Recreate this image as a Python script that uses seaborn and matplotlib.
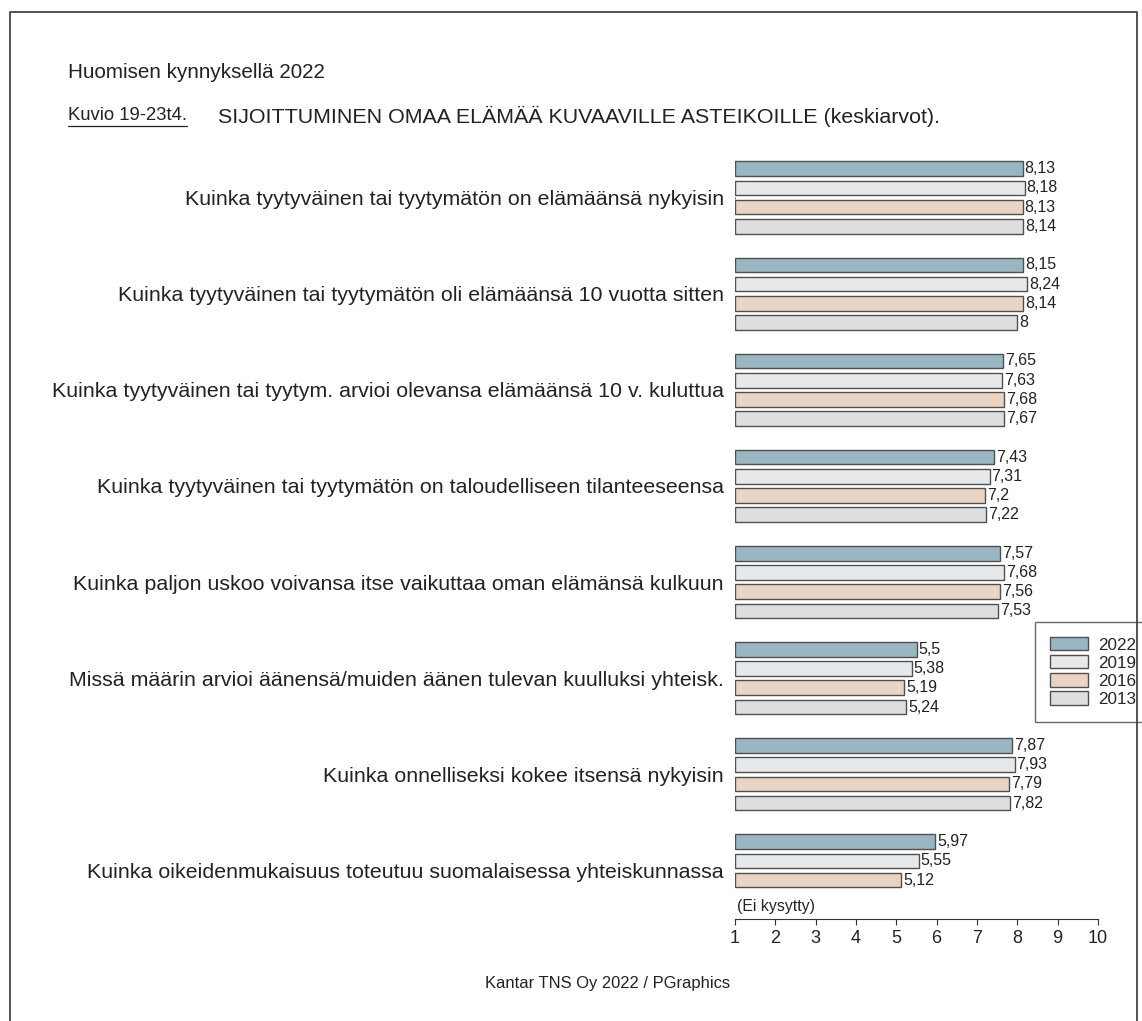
import numpy as np
import pandas as pd
import matplotlib
matplotlib.use("Agg")
import matplotlib.pyplot as plt
from matplotlib.lines import Line2D
import seaborn as sns

# --data
kysymykset = [
    "Kuinka tyytyväinen tai tyytymätön on elämäänsä nykyisin",
    "Kuinka tyytyväinen tai tyytymätön oli elämäänsä 10 vuotta sitten",
    "Kuinka tyytyväinen tai tyytym. arvioi olevansa elämäänsä 10 v. kuluttua",
    "Kuinka tyytyväinen tai tyytymätön on taloudelliseen tilanteeseensa",
    "Kuinka paljon uskoo voivansa itse vaikuttaa oman elämänsä kulkuun",
    "Missä määrin arvioi äänensä/muiden äänen tulevan kuulluksi yhteisk.",
    "Kuinka onnelliseksi kokee itsensä nykyisin",
    "Kuinka oikeidenmukaisuus toteutuu suomalaisessa yhteiskunnassa",
]
vuodet = ["2022", "2019", "2016", "2013"]
v2022 = [8.13, 8.15, 7.65, 7.43, 7.57, 5.5, 7.87, 5.97]
v2019 = [8.18, 8.24, 7.63, 7.31, 7.68, 5.38, 7.93, 5.55]
v2016 = [8.13, 8.14, 7.68, 7.2, 7.56, 5.19, 7.79, 5.12]
v2013 = [8.14, 8.0, 7.67, 7.22, 7.53, 5.24, 7.82, np.nan]
varit = ["#93b9c7", "#e7e8e9", "#f1d1bd", "#dddee0"]

rows = []
for vuosi, arvot in zip(vuodet, [v2022, v2019, v2016, v2013]):
    for k, a in zip(kysymykset, arvot):
        rows.append({"kysymys": k, "vuosi": vuosi, "arvo": a})
df = pd.DataFrame(rows).dropna()

sns.set_style("white")
plt.rcParams["font.family"] = ["Liberation Sans", "DejaVu Sans"]

W, H = 1142, 1021
fig = plt.figure(figsize=(W / 100, H / 100), dpi=100)
ax = fig.add_axes([735 / W, 1 - 918.5 / H, (1098 - 735) / W, (918.5 - 149.5) / H])

sns.barplot(data=df, x="arvo", y="kysymys", hue="vuosi", order=kysymykset,
            hue_order=vuodet, palette=dict(zip(vuodet, varit)), orient="h",
            width=0.8, gap=0.24, edgecolor="#505050", linewidth=1.0,
            errorbar=None, ax=ax)

# bars start from the scale's left end (1)
for p in ax.patches:
    w = p.get_width()
    p.set_x(1)
    p.set_width(w - 1)

for c in ax.containers:
    ax.bar_label(c, fmt=lambda v: f"{v:g}".replace(".", ","), padding=1.5,
                 fontsize=11.5, color="#222222")

ax.set_xlim(1, 10)
ax.set_xticks(range(1, 11))
ax.set_xlabel("")
ax.set_ylabel("")
for s in ["top", "right", "left"]:
    ax.spines[s].set_visible(False)
ax.spines["bottom"].set_color("#333333")
ax.tick_params(axis="x", bottom=True, length=4, color="#333333",
               labelsize=13, labelcolor="#222222", pad=4)
ax.tick_params(axis="y", left=False, labelsize=15.4, labelcolor="#222222", pad=4.5)

# missing 2013 value in the last question
ax.text(1.05, 7 + 0.38, "(Ei kysytty)", fontsize=11.4, color="#222222",
        va="center", ha="left")

sns.move_legend(ax, loc="upper left", bbox_to_anchor=(1035 / W, 1 - 622 / H),
                bbox_transform=fig.transFigure, title=None, frameon=True,
                fancybox=False, fontsize=12.3, handlelength=2.2, handleheight=0.8,
                labelspacing=0.15, borderpad=0.9, handletextpad=0.6,
                borderaxespad=0)
leg = ax.get_legend()
leg.get_frame().set_edgecolor("#444444")
leg.get_frame().set_linewidth(1.0)

# titles
fig.text(68 / W, 1 - 73 / H, "Huomisen kynnyksellä 2022", fontsize=14.9,
         color="#222222", va="center")
kuvio = fig.text(68 / W, 1 - 116 / H, "Kuvio 19-23t4.", fontsize=13.3,
                 color="#222222", va="center")
fig.text(218 / W, 1 - 116 / H,
         "SIJOITTUMINEN OMAA ELÄMÄÄ KUVAAVILLE ASTEIKOILLE (keskiarvot).",
         fontsize=15.4, color="#222222", va="center")
fig.text(608 / W, 1 - 983 / H, "Kantar TNS Oy 2022 / PGraphics", fontsize=11.9,
         color="#222222", ha="center", va="center")

# underline for the figure number
fig.canvas.draw()
bb = kuvio.get_window_extent().transformed(fig.transFigure.inverted())
fig.add_artist(Line2D([bb.x0, bb.x1], [bb.y0 - 1 / H, bb.y0 - 1 / H],
                      transform=fig.transFigure, color="#222222", lw=0.9))

# outer frame (open at the bottom)
fig.add_artist(Line2D([10 / W, 10 / W, 1137 / W, 1137 / W],
                      [-0.01, 1 - 12 / H, 1 - 12 / H, -0.01],
                      transform=fig.transFigure, color="#444444", lw=1.3))

fig.savefig("out.png", dpi=100)
